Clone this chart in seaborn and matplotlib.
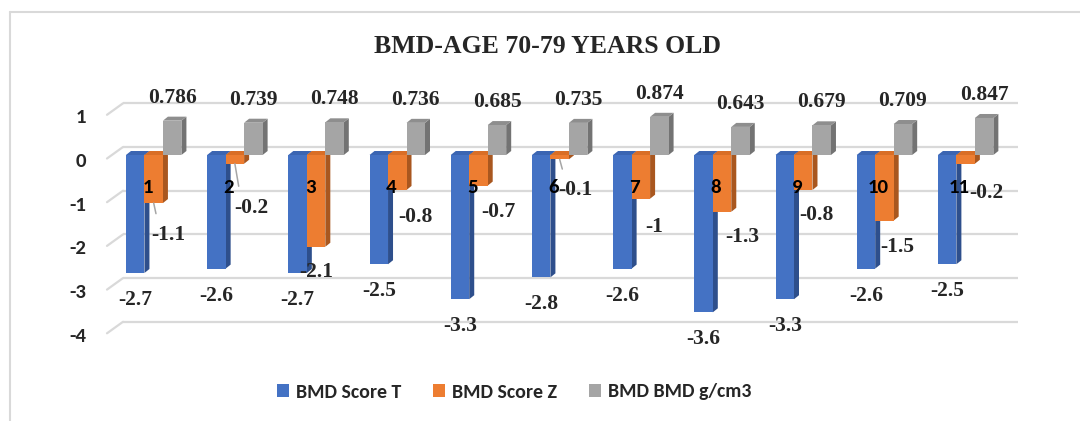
import numpy as np
import pandas as pd
import matplotlib
matplotlib.use("Agg")
import matplotlib.pyplot as plt
from matplotlib.patches import Polygon
from matplotlib.lines import Line2D
from matplotlib.transforms import ScaledTranslation
from matplotlib.font_manager import FontProperties
import seaborn as sns

# ---- data -------------------------------------------------------------
groups = ["1", "2", "3", "4", "5", "6", "7", "8", "9", "10", "11"]
t_scores = [-2.7, -2.6, -2.7, -2.5, -3.3, -2.8, -2.6, -3.6, -3.3, -2.6, -2.5]
z_scores = [-1.1, -0.2, -2.1, -0.8, -0.7, -0.1, -1, -1.3, -0.8, -1.5, -0.2]
bmd_values = [0.786, 0.739, 0.748, 0.736, 0.685, 0.735, 0.874, 0.643, 0.679, 0.709, 0.847]
series_names = ["BMD Score T", "BMD Score Z", "BMD BMD g/cm3"]
y_ticks = [1, 0, -1, -2, -3, -4]
title = "BMD-AGE 70-79 YEARS OLD"

# ---- styling ----------------------------------------------------------
front_colors = ["#4472C4", "#ED7D31", "#A5A5A5"]
side_colors = ["#2E4F8C", "#A9571F", "#737373"]
top_colors = ["#3B65B2", "#D96E26", "#8E8E8E"]
grid_color = "#D9D9D9"

axis_font = FontProperties(family="Carlito", weight="bold", size=15)
legend_font = FontProperties(family="Carlito", weight="bold", size=14.3)
value_font = FontProperties(family="Liberation Serif", weight="bold", size=15.5)
title_font = FontProperties(family="Liberation Serif", weight="bold", size=18.5)

# label nudges (pixels) for the Z-score labels, and which ones get a leader line
z_label_offsets = [(15, -32), (16, -44), (0, -25), (18, -27), (20, -26), (16, -31),
                   (13, -28), (20, -25), (13, -25), (13, -26), (21, -29)]
z_leader = [True, True, False, False, False, True, False, False, False, False, False]

sns.set_style("white")
plt.rcParams["font.family"] = ["Carlito", "DejaVu Sans"]

W, H, DPI = 1080, 421, 100
fig = plt.figure(figsize=(W / DPI, H / DPI), dpi=DPI)
fig.patch.set_facecolor("white")

# axes box in pixels
ax_l, ax_r, ax_t, ax_b = 107, 1018, 95, 345
ax = fig.add_axes([ax_l / W, (H - ax_b) / H, (ax_r - ax_l) / W, (ax_b - ax_t) / H])

df = pd.DataFrame({
    "group": groups * 3,
    "series": np.repeat(series_names, len(groups)),
    "value": t_scores + z_scores + bmd_values,
})

sns.barplot(data=df, x="group", y="value", hue="series", order=groups,
            hue_order=series_names, palette=front_colors, saturation=1,
            width=0.683, gap=0, errorbar=None, linewidth=0, edgecolor="none",
            ax=ax, zorder=3, legend=False)
ax.set_xlim(-0.575, 10.645)
ax.set_ylim(-4.348, 1.373)

# pixel -> data scale
p0 = ax.transData.transform((0, 0))
p1 = ax.transData.transform((1, 1))
sx, sy = p1[0] - p0[0], p1[1] - p0[1]

# back-wall gridlines with a short perspective stub at the left
for v in y_ticks:
    yb = v + 8 / sy
    yf = v - 3.5 / sy
    xb = -0.575 + 16 / sx
    ax.plot([xb, 10.645], [yb, yb], color=grid_color, lw=1.6, zorder=1,
            solid_capstyle="butt", clip_on=False)
    ax.plot([-0.575, xb], [yf, yb], color=grid_color, lw=1.6, zorder=1,
            clip_on=False)

# depth faces for each bar
DX, DY = 5 / sx, 4 / sy
for k, cont in enumerate(ax.containers):
    for bar in cont:
        bar.set_zorder(3 + k * 0.1 + 0.05)
        x0 = bar.get_x()
        x1 = x0 + bar.get_width()
        ya = bar.get_y()
        yb = ya + bar.get_height()
        top, bot = max(ya, yb), min(ya, yb)
        side = Polygon([(x1, bot), (x1 + DX, bot + DY), (x1 + DX, top + DY), (x1, top)],
                       closed=True, facecolor=side_colors[k], edgecolor="none",
                       zorder=3 + k * 0.1)
        cap = Polygon([(x0, top), (x1, top), (x1 + DX, top + DY), (x0 + DX, top + DY)],
                      closed=True, facecolor=top_colors[k], edgecolor="none",
                      zorder=3 + k * 0.1)
        ax.add_patch(side)
        ax.add_patch(cap)

# value labels
t_bars, z_bars, b_bars = ax.containers
for i in range(len(groups)):
    b = t_bars[i]
    ax.annotate(f"{t_scores[i]:g}", (b.get_x() + b.get_width() / 2, t_scores[i]),
                xytext=(0, -27), textcoords="offset pixels", ha="center", va="center",
                zorder=6, annotation_clip=False, fontproperties=value_font)
    b = b_bars[i]
    ax.annotate(f"{bmd_values[i]:g}", (b.get_x() + b.get_width() / 2, bmd_values[i]),
                xytext=(0, 23), textcoords="offset pixels", ha="center", va="center",
                zorder=6, annotation_clip=False, fontproperties=value_font)
    b = z_bars[i]
    arrow = None
    if z_leader[i]:
        arrow = dict(arrowstyle="-", color="#A6A6A6", lw=1.1, shrinkA=6, shrinkB=0,
                     relpos=(0.2, 1.0))
    ax.annotate(f"{z_scores[i]:g}", (b.get_x() + b.get_width() / 2, z_scores[i]),
                xytext=z_label_offsets[i], textcoords="offset pixels", ha="center",
                va="center", zorder=6, annotation_clip=False, arrowprops=arrow,
                fontproperties=value_font)

# category labels drawn inside the plot
for i, g in enumerate(groups):
    ax.text(i - 6 / sx, -33 / sy, g, ha="center", va="center",
            fontproperties=axis_font, color="black", zorder=7)

# value axis
ax.set_xticks([])
ax.set_yticks(y_ticks, [f"{v}" for v in y_ticks])
ax.tick_params(axis="y", length=0, pad=(ax_l - 86) * 72 / DPI)
shift = ScaledTranslation(0, -5 / DPI, fig.dpi_scale_trans)
for lab in ax.get_yticklabels():
    lab.set_fontproperties(axis_font)
    lab.set_transform(lab.get_transform() + shift)
ax.set_xlabel("")
ax.set_ylabel("")
for s in ax.spines.values():
    s.set_visible(False)
ax.set_facecolor("none")

# legend
handles = [plt.Rectangle((0, 0), 1, 1, facecolor=c, edgecolor="none") for c in front_colors]
ax.legend(handles, series_names, loc="center", bbox_to_anchor=(514 / W, 1 - 392 / H),
          bbox_transform=fig.transFigure, ncol=3, frameon=False, prop=legend_font,
          handlelength=0.62, handleheight=0.62, handletextpad=0.35, columnspacing=1.6)

# title
fig.text(547 / W, 1 - 46.5 / H, title, ha="center", va="center",
         fontproperties=title_font)

# chart-area frame (left and top edges)
fig.add_artist(Line2D([9.5 / W, 9.5 / W], [0, 1 - 12 / H], color=grid_color, lw=1.5))
fig.add_artist(Line2D([9.5 / W, 1], [1 - 12 / H, 1 - 12 / H], color=grid_color, lw=1.5))

fig.savefig("out.png", dpi=DPI, facecolor="white")
